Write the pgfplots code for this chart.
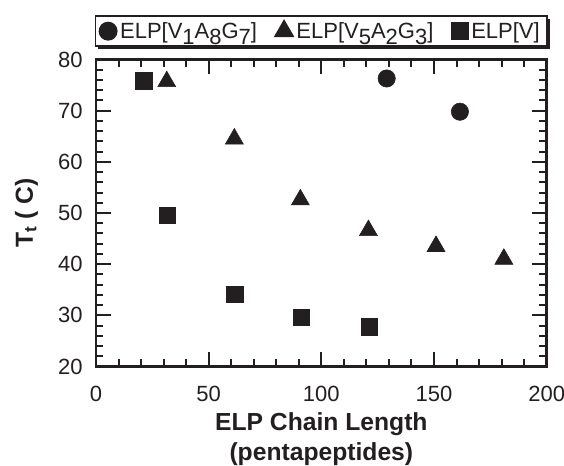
\documentclass[border=0pt]{standalone}
\usepackage{fontspec}
\setmainfont{Liberation Sans}
\usepackage{pgfplots}
\pgfplotsset{compat=1.18}
\usetikzlibrary{shadows}
\definecolor{ink}{RGB}{35,31,32}
\newcommand\sub[1]{\raisebox{-0.3em}{#1}}
\begin{document}
\begin{tikzpicture}[color=ink]
\path[use as bounding box] (-72pt,-74.6pt) rectangle (351pt,274.9pt);
\begin{axis}[
scale only axis,
width=338pt, height=230.25pt,
xmin=0, xmax=200, ymin=20, ymax=80,
xtick={0,50,...,200}, ytick={20,30,...,80},
minor x tick num=4, minor y tick num=4,
major tick length=11pt, minor tick length=5.5pt,
axis line style={line width=2.2pt, ink},
every tick/.append style={line width=1.5pt, ink},
/pgf/number format/assume math mode=true,
ticklabel style={font=\fontsize{16.5}{19}\selectfont},
xticklabel style={yshift=-11pt},
yticklabel style={xshift=-6.5pt},
xlabel={ELP Chain Length\\(pentapeptides)},
xlabel style={at={(axis description cs:0.5,-0.148)}, anchor=north, inner sep=0pt, align=center, font=\bfseries\fontsize{18.5}{22.5}\selectfont},
ylabel={T\textsubscript{t} ( C)},
ylabel style={at={(axis description cs:-0.14,0.5)}, anchor=base, font=\bfseries\fontsize{18.5}{22.5}\selectfont},
legend columns=3,
legend image code/.code={\draw[#1] plot coordinates {(0pt,0pt)};},
legend style={at={(-0.003,1.041)}, anchor=south west, draw=ink, line width=1.2pt, fill=white,
  font=\fontsize{16.5}{19}\selectfont,
  drop shadow={shadow xshift=2.2pt, shadow yshift=-2.2pt, fill=ink, opacity=1},
  nodes={inner xsep=2.5pt, inner ysep=2.5pt},
  /tikz/every even column/.append style={column sep=11pt}},
]
\addplot[only marks, mark=*, mark size=6.5pt, ink] coordinates {
(129,76.3) (161.5,69.8)
};
\addlegendentry{ELP[V\sub{1}A\sub{8}G\sub{7}]}
\addplot[only marks, mark=triangle*, mark size=7.8pt, ink] coordinates {
(31.4,75.7) (61.4,64.5) (90.7,52.6) (120.9,46.6) (150.9,43.5) (181,41.0)
};
\addlegendentry{ELP[V\sub{5}A\sub{2}G\sub{3}]}
\addplot[only marks, mark=square*, mark size=6.2pt, ink, mark options={rounded corners=1.2pt}] coordinates {
(21.3,75.9) (31.6,49.6) (61.7,34.1) (91,29.6) (121.3,27.75)
};
\addlegendentry{ELP[V]}
\end{axis}
\end{tikzpicture}
\end{document}
